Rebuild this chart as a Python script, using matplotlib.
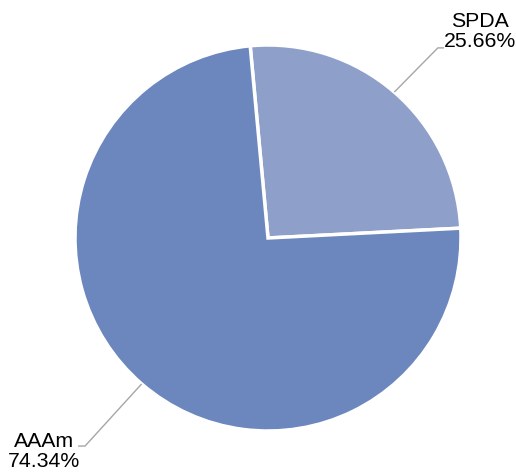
import numpy as np
import matplotlib.pyplot as plt

# data
labels = ["SPDA", "AAAm"]
values = [25.66, 74.34]
colors = ["#8EA0CA", "#6C87BD"]

plt.rcParams['font.family'] = ['Liberation Sans', 'DejaVu Sans']

fig = plt.figure(figsize=(5.16, 4.76), dpi=100)
ax = fig.add_axes([0, 0, 1, 1])

wedges, _ = ax.pie(values, colors=colors, startangle=95.3, counterclock=False,
                   radius=1.0, wedgeprops=dict(edgecolor="white", linewidth=2.5))

# leader lines + labels: (elbow, line end, text pos)
layout = {
    "SPDA": ((0.88, 0.985), (0.912, 0.985), (1.10, 1.07)),
    "AAAm": ((-0.948, -1.078), (-0.984, -1.078), (-1.16, -1.105)),
}
for w, lab, val in zip(wedges, labels, values):
    ang = np.deg2rad((w.theta1 + w.theta2) / 2)
    x0, y0 = np.cos(ang), np.sin(ang)
    elbow, end, tpos = layout[lab]
    ax.plot([x0, elbow[0], end[0]], [y0, elbow[1], end[1]],
            color="#A6A6A6", linewidth=1, solid_capstyle="butt")
    ax.text(tpos[0], tpos[1], f"{lab}\n{val:.2f}%", ha="center", va="center",
            fontsize=15.3, color="#000000", linespacing=1.05)

ax.set_xlim(-268 / 193, (516 - 268) / 193)
ax.set_ylim(-238 / 193, 238 / 193)
ax.set_aspect("equal")
ax.axis("off")

fig.savefig("out.png", dpi=100)
